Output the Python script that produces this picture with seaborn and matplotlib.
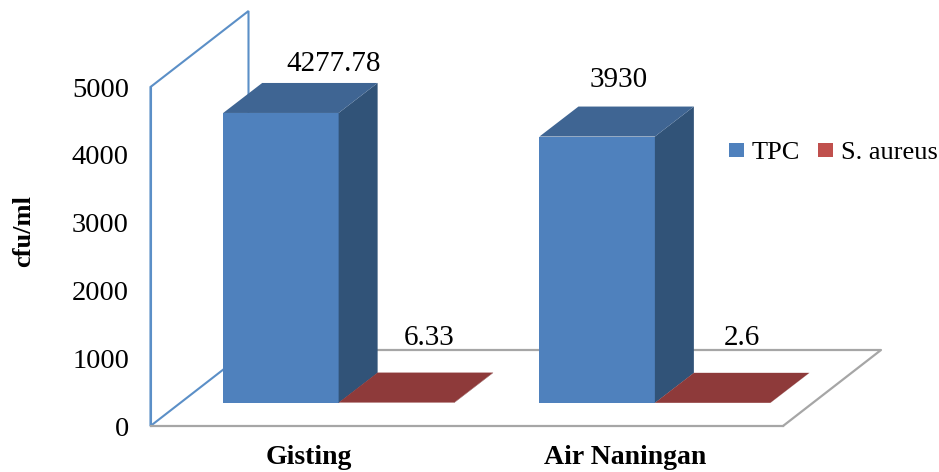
import pandas as pd
import seaborn as sns
import matplotlib.pyplot as plt
from matplotlib.patches import Polygon

sites = ['Gisting', 'Air Naningan']
tpc_values = [4277.78, 3930]
aureus_values = [6.33, 2.6]
series_names = ['TPC', 'S. aureus']
y_ticks = [0, 1000, 2000, 3000, 4000, 5000]
value_labels = ['4277.78', '3930', '6.33', '2.6']

df = pd.DataFrame({
    'site': sites * 2,
    'series': [series_names[0]] * 2 + [series_names[1]] * 2,
    'value': tpc_values + aureus_values,
})

W, H = 939, 472
sns.set_theme(style="white")
plt.rcParams['font.family'] = ['Liberation Serif', 'DejaVu Sans']
fig = plt.figure(figsize=(W / 100, H / 100), dpi=100)


def box(left, right, top, bottom):
    return [left / W, 1 - bottom / H, (right - left) / W, (bottom - top) / H]


# frame axes carries the ticks, the bar axes sits shifted along the 3D depth
frame_ax = fig.add_axes(box(150.5, 783, 87, 426))
bar_ax = fig.add_axes(box(180.5, 813, 64, 403))
bar_ax.patch.set_alpha(0)

for a in (frame_ax, bar_ax):
    a.set_xlim(-0.5, 1.5)
    a.set_ylim(0, 5000)

px_x = 2 / 632.5
px_y = 5000 / 339

# --- frame: wall and floor ---
wall_color = '#5B8FC7'
floor_color = '#A6A6A6'
dx = 98 * px_x
dy = 76 * px_y
frame_ax.add_patch(Polygon([(-0.5, 0), (-0.5, 5000), (-0.5 + dx, 5000 + dy), (-0.5 + dx, dy)],
                           closed=True, fill=False, ec=wall_color, lw=1.5, clip_on=False))
frame_ax.plot([-0.5 + dx, 1.5 + dx, 1.5], [dy, dy, 0], color=floor_color, lw=1.6, clip_on=False)

sns.despine(ax=frame_ax)
frame_ax.spines['left'].set_color(wall_color)
frame_ax.spines['left'].set_linewidth(1.5)
frame_ax.spines['bottom'].set_color(floor_color)
frame_ax.spines['bottom'].set_linewidth(1.6)
frame_ax.set_yticks(y_ticks)
frame_ax.set_xticks([0, 1])
frame_ax.set_xticklabels(sites, fontsize=20, fontweight='bold', color='black')
frame_ax.tick_params(axis='x', length=0, pad=14)
frame_ax.tick_params(axis='y', length=0, pad=15.5, labelsize=20.5, labelcolor='black')
frame_ax.set_ylabel('cfu/ml', fontsize=19, fontweight='bold', color='black')
frame_ax.yaxis.set_label_coords((35 - 150.5) / 632.5, (426 - 231) / 339)

# --- bars ---
sns.barplot(data=df, x='site', y='value', hue='series', order=sites, hue_order=series_names,
            palette=['#4F81BD', '#C0504D'], width=0.73, gap=0, saturation=1, linewidth=0, ax=bar_ax)
bar_ax.set_xlim(-0.5, 1.5)
bar_ax.set_ylim(0, 5000)
bar_ax.axis('off')

side_colors = ['#315378', '#6E2C2B']
top_colors = ['#3F6593', '#8E3A3A']
bar_dx = 39 * px_x
bar_dy = 30 * px_y
for container, side, top in zip(bar_ax.containers, side_colors, top_colors):
    for bar in container:
        x0, x1 = bar.get_x(), bar.get_x() + bar.get_width()
        h = bar.get_height()
        bar_ax.add_patch(Polygon([(x1, 0), (x1 + bar_dx, bar_dy), (x1 + bar_dx, h + bar_dy), (x1, h)],
                                 closed=True, fc=side, ec='none', clip_on=False, zorder=3))
        bar_ax.add_patch(Polygon([(x0, h), (x0 + bar_dx, h + bar_dy), (x1 + bar_dx, h + bar_dy), (x1, h)],
                                 closed=True, fc=top, ec='none', clip_on=False, zorder=3))

# value labels, offsets in pixels from the bar's front top centre
offsets = [(53, 49), (21, 57), (33, 65), (29, 65)]
bars = list(bar_ax.containers[0]) + list(bar_ax.containers[1])
for bar, text, (ox, oy) in zip(bars, value_labels, offsets):
    bar_ax.annotate(text, (bar.get_x() + bar.get_width() / 2, bar.get_height()),
                    xytext=(ox * 0.72, oy * 0.72), textcoords='offset points',
                    ha='center', va='center', fontsize=21, color='black', annotation_clip=False)

# --- legend ---
sns.move_legend(bar_ax, loc='center left', bbox_to_anchor=(729 / W, 1 - 153 / H),
                bbox_transform=fig.transFigure, ncol=2, title=None, frameon=False, fontsize=19,
                handlelength=0.55, handleheight=0.45, handletextpad=0.3, columnspacing=0.7,
                borderpad=0, borderaxespad=0, labelcolor='black')

plt.savefig('out.png', dpi=100)
